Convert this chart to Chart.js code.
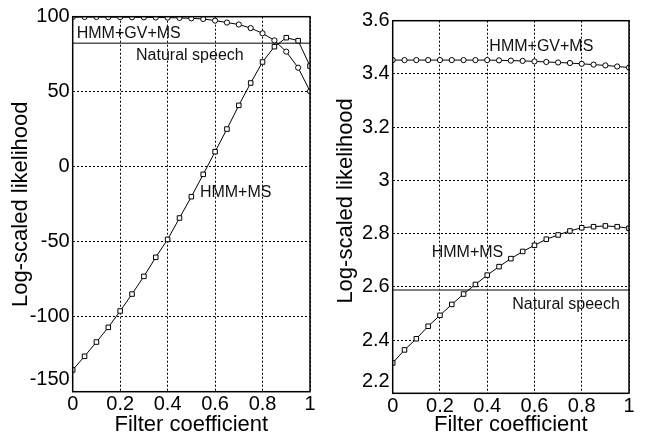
<!DOCTYPE html>
<html>
<head>
<meta charset="utf-8">
<script src="https://cdn.jsdelivr.net/npm/chart.js@4.4.1/dist/chart.umd.min.js"></script>
<style>
  html, body { margin: 0; padding: 0; background: #ffffff; }
  #wrap { position: relative; width: 653px; height: 438px; }
  #boxL { position: absolute; left: 0; top: 0; width: 330px; height: 438px; }
  #boxR { position: absolute; left: 330px; top: 0; width: 323px; height: 438px; }
</style>
</head>
<body>
<div id="wrap">
  <div id="boxL"><canvas id="left"></canvas></div>
  <div id="boxR"><canvas id="right"></canvas></div>
</div>
<script>
// ---- data ----
const filterCoef = [0, 0.05, 0.1, 0.15, 0.2, 0.25, 0.3, 0.35, 0.4, 0.45, 0.5,
                    0.55, 0.6, 0.65, 0.7, 0.75, 0.8, 0.85, 0.9, 0.95, 1];

// Left panel
const leftGvMs = [99.8, 99.8, 99.8, 99.7, 99.7, 99.6, 99.6, 99.5, 99.4, 99.2, 98.9,
                  98.5, 97.4, 96.1, 94.8, 92.4, 88.9, 84.2, 76.7, 66.0, 50.3];
const leftMs = [-135.5, -126.4, -116.9, -107.1, -96.2, -84.9, -73.1, -60.4, -48.5, -34.2, -20.0,
                -5.1, 10.0, 25.1, 40.9, 55.8, 69.8, 80.0, 86.0, 84.0, 67.1];
const leftNatural = 82.3;
const leftTicks = [-150, -100, -50, 0, 50, 100];

// Right panel
const rightGvMs = [3.452, 3.452, 3.452, 3.452, 3.452, 3.452, 3.452, 3.452, 3.452, 3.451, 3.450,
                   3.449, 3.447, 3.445, 3.443, 3.441, 3.438, 3.435, 3.432, 3.428, 3.424];
const rightMs = [2.314, 2.363, 2.405, 2.452, 2.493, 2.534, 2.573, 2.609, 2.644, 2.676, 2.706,
                 2.733, 2.756, 2.779, 2.795, 2.810, 2.822, 2.826, 2.829, 2.826, 2.820];
const rightNatural = 2.588;
const rightTicks = [2.2, 2.4, 2.6, 2.8, 3.0, 3.2, 3.4, 3.6];

const xTicks = [0, 0.2, 0.4, 0.6, 0.8, 1];
const labelGvMs = 'HMM+GV+MS';
const labelMs = 'HMM+MS';
const labelNatural = 'Natural speech';
const xTitle = 'Filter coefficient';
const yTitle = 'Log-scaled likelihood';

// ---- helpers ----
const FONT = '"Liberation Sans", Arial, Helvetica, sans-serif';
const pts = (ys) => filterCoef.map((x, i) => ({ x: x, y: ys[i] }));

const framePlugin = {
  id: 'frame',
  afterDraw(chart) {
    const a = chart.chartArea, ctx = chart.ctx;
    ctx.save();
    ctx.strokeStyle = '#000';
    ctx.lineWidth = 1.5;
    ctx.strokeRect(a.left, a.top, a.right - a.left, a.bottom - a.top);
    ctx.restore();
  }
};

const textPlugin = {
  id: 'notes',
  afterDatasetsDraw(chart, args, opts) {
    const ctx = chart.ctx, xs = chart.scales.x, ys = chart.scales.y;
    ctx.save();
    ctx.font = '16px ' + FONT;
    ctx.fillStyle = '#111';
    ctx.textAlign = 'left';
    ctx.textBaseline = 'middle';
    (opts.items || []).forEach(t => {
      ctx.fillText(t.text, xs.getPixelForValue(t.x), ys.getPixelForValue(t.y));
    });
    ctx.restore();
  }
};

function makeChart(id, cfg) {
  const ds = [
    { label: labelGvMs, data: pts(cfg.gv), borderColor: '#000', borderWidth: 1,
      pointStyle: 'circle', pointRadius: 2.6, pointBorderWidth: 1,
      pointBackgroundColor: '#fff', pointBorderColor: '#000', tension: 0 },
    { label: labelMs, data: pts(cfg.ms), borderColor: '#000', borderWidth: 1,
      pointStyle: 'rect', pointRadius: 3.2, pointBorderWidth: 1,
      pointBackgroundColor: '#fff', pointBorderColor: '#000', tension: 0 },
    { label: labelNatural, data: [{ x: 0, y: cfg.nat }, { x: 1, y: cfg.nat }],
      borderColor: '#555', borderWidth: 1.6, pointRadius: 0 }
  ];
  return new Chart(document.getElementById(id), {
    type: 'line',
    data: { datasets: ds },
    plugins: [framePlugin, textPlugin],
    options: {
      responsive: true,
      maintainAspectRatio: false,
      animation: false,
      events: [],
      layout: { padding: cfg.pad },
      plugins: {
        legend: { display: false },
        tooltip: { enabled: false },
        notes: { items: cfg.notes }
      },
      scales: {
        x: {
          type: 'linear', min: 0, max: 1,
          afterBuildTicks: s => { s.ticks = xTicks.map(v => ({ value: v })); },
          afterFit: s => { s.height = cfg.xh; },
          ticks: { color: '#000', font: { family: FONT, size: 20 }, padding: 1,
                   maxRotation: 0, autoSkip: false,
                   callback: v => String(v) },
          grid: { color: '#000', lineWidth: 1, drawTicks: false },
          border: { display: false, dash: [2, 2] },
          title: { display: true, text: xTitle, color: '#000',
                   font: { family: FONT, size: 22 }, padding: { top: 0, bottom: 0 } }
        },
        y: {
          type: 'linear', min: cfg.min, max: cfg.max,
          afterBuildTicks: s => { s.ticks = cfg.ticks.map(v => ({ value: v })); },
          afterFit: s => { s.width = cfg.yw; },
          ticks: { color: '#000', font: { family: FONT, size: 20 }, padding: 3,
                   autoSkip: false,
                   callback: v => {
                     const t = cfg.fmt(v);
                     return v === cfg.min ? [t, ''] : t;
                   } },
          grid: { color: '#000', lineWidth: 1, drawTicks: false },
          border: { display: false, dash: [2, 2] },
          title: { display: true, text: cfg.ytitle, color: '#000',
                   font: { family: FONT, size: 22 }, padding: { top: cfg.ytp, bottom: 0 } }
        }
      }
    }
  });
}

const left = makeChart('left', {
  gv: leftGvMs, ms: leftMs, nat: leftNatural,
  min: -150, max: 100, ticks: leftTicks, fmt: v => String(v),
  pad: { left: 0, right: 20, top: 16.7, bottom: 0 }, yw: 72.7, xh: 46.3, ytp: 8,
  ytitle: yTitle,
  notes: [
    { text: labelGvMs, x: 0.017, y: 89 },
    { text: labelNatural, x: 0.267, y: 73.8 },
    { text: labelMs, x: 0.536, y: -17.3 }
  ]
});

const right = makeChart('right', {
  gv: rightGvMs, ms: rightMs, nat: rightNatural,
  min: 2.2, max: 3.6, ticks: rightTicks, fmt: v => String(Number(v.toFixed(1))),
  pad: { left: 0, right: 24, top: 20.7, bottom: 0 }, yw: 62.7, xh: 44.7, ytp: 2.5,
  ytitle: '  ' + yTitle,
  notes: [
    { text: labelGvMs, x: 0.409, y: 3.503 },
    { text: labelMs, x: 0.165, y: 2.730 },
    { text: labelNatural, x: 0.506, y: 2.534 }
  ]
});
</script>
</body>
</html>
